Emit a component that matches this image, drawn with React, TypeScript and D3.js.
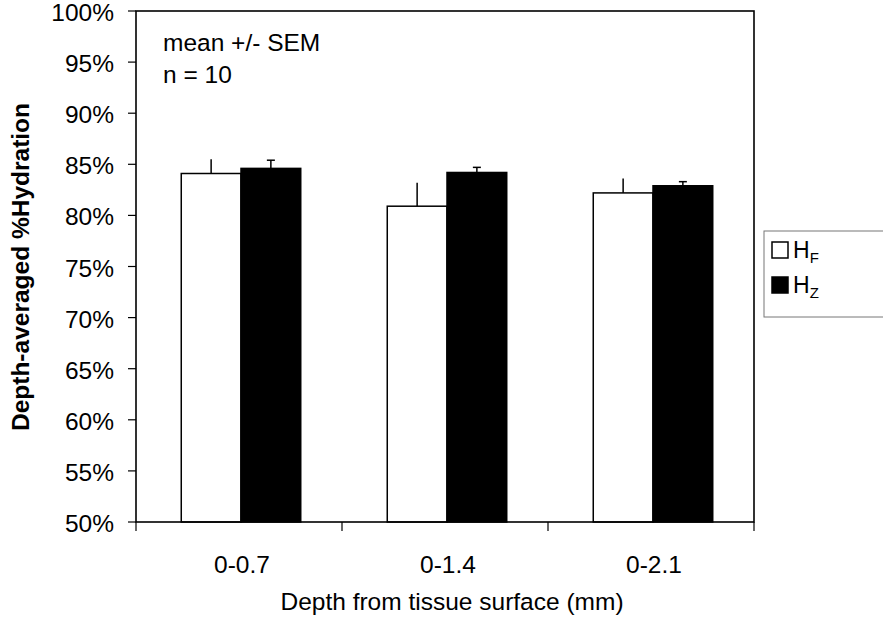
import React from "react";
import * as d3 from "d3";

const categories = ["0-0.7", "0-1.4", "0-2.1"];
const seriesNames = ["F", "Z"];
const hF = [84.1, 80.9, 82.2];
const hFErr = [1.4, 2.3, 1.4];
const hZ = [84.6, 84.2, 82.9];
const hZErr = [0.8, 0.5, 0.4];
const yTicks = [50, 55, 60, 65, 70, 75, 80, 85, 90, 95, 100];

const W = 883;
const H = 625;
const M = { left: 136, right: 754, top: 11, bottom: 522 };
const FONT = "Arial, 'Liberation Sans', Helvetica, sans-serif";
const FS = 24.5;

export default function App() {
  const x0 = d3.scaleBand<string>().domain(categories).range([M.left, M.right]).padding(0);
  const x1 = d3.scaleBand<string>().domain(seriesNames).range([0, x0.bandwidth() * 0.58]).padding(0);
  const groupOffset = (x0.bandwidth() - x1.range()[1]) / 2 + 2;
  const y = d3.scaleLinear().domain([50, 100]).range([M.bottom, M.top]);

  const series = [
    { key: "F", values: hF, errs: hFErr, fill: "#fff", cap: false },
    { key: "Z", values: hZ, errs: hZErr, fill: "#000", cap: true },
  ];

  return (
    <svg width={W} height={H} style={{ position: "absolute", left: 0, top: 0, background: "#fff" }}>
      <rect x={0} y={0} width={W} height={H} fill="#fff" />
      {categories.map((c, i) =>
        series.map((s) => {
          const bx = (x0(c) as number) + groupOffset + (x1(s.key) as number);
          const bw = x1.bandwidth();
          const top = y(s.values[i]);
          const et = y(s.values[i] + s.errs[i]);
          const cx = bx + bw / 2;
          return (
            <g key={c + s.key}>
              <line x1={cx} x2={cx} y1={top} y2={et} stroke="#000" strokeWidth={1.5} />
              {s.cap && <line x1={cx - 4} x2={cx + 4} y1={et} y2={et} stroke="#000" strokeWidth={1.5} />}
              <rect x={bx} y={top} width={bw} height={M.bottom - top} fill={s.fill} stroke="#000" strokeWidth={1.5} />
            </g>
          );
        })
      )}
      <rect x={M.left} y={M.top} width={M.right - M.left} height={M.bottom - M.top} fill="none" stroke="#000" strokeWidth={1.6} />
      {yTicks.map((t) => (
        <g key={t}>
          <line x1={M.left - 8} x2={M.left} y1={y(t)} y2={y(t)} stroke="#000" strokeWidth={1.2} />
          <text x={114} y={y(t) + 10} fontFamily={FONT} fontSize={FS} textAnchor="end" fill="#000">{`${t}%`}</text>
        </g>
      ))}
      {[...categories.map((c) => x0(c) as number), M.right].map((xv, i) => (
        <line key={i} x1={xv} x2={xv} y1={M.bottom} y2={M.bottom + 9} stroke="#000" strokeWidth={1.2} />
      ))}
      {categories.map((c) => (
        <text key={c} x={(x0(c) as number) + x0.bandwidth() / 2 + 3} y={573} fontFamily={FONT} fontSize={FS} textAnchor="middle" fill="#000">{c}</text>
      ))}
      <text x={452} y={610} fontFamily={FONT} fontSize={FS} textAnchor="middle" fill="#000">Depth from tissue surface (mm)</text>
      <text
        transform={`translate(29,267) rotate(-90)`}
        fontFamily={FONT}
        fontSize={FS}
        fontWeight="bold"
        textAnchor="middle"
        fill="#000"
      >
        Depth-averaged %Hydration
      </text>
      <text x={163} y={51} fontFamily={FONT} fontSize={FS} fill="#000">mean +/- SEM</text>
      <text x={163} y={83} fontFamily={FONT} fontSize={FS} fill="#000">n = 10</text>
      <rect x={764} y={231} width={130} height={86} fill="#fff" stroke="#777" strokeWidth={1} />
      {series.map((s, i) => (
        <g key={s.key}>
          <rect x={772} y={242 + i * 35} width={16} height={16} fill={s.fill} stroke="#000" strokeWidth={1.5} />
          <text x={793} y={258 + i * 35} fontFamily={FONT} fontSize={23} fill="#000">
            H
            <tspan fontSize={15} dy={5}>{s.key}</tspan>
          </text>
        </g>
      ))}
    </svg>
  );
}
